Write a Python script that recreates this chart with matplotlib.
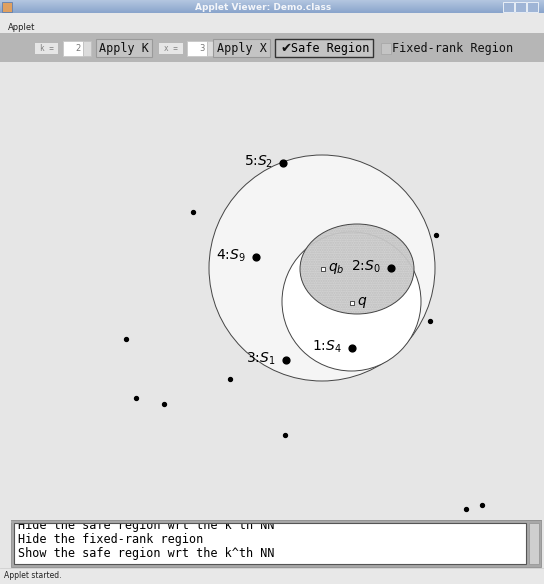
import numpy as np
import matplotlib
matplotlib.use('Agg')
import matplotlib.pyplot as plt
from matplotlib.patches import Rectangle, Circle, Ellipse

plt.rcParams['mathtext.fontset'] = 'dejavusans'

# data points (pixel coords of the applet canvas)
dot_x = [193, 126, 136, 164, 230, 285, 436, 430, 466, 482]
dot_y = [212, 339, 398, 404, 379, 435, 235, 321, 509, 505]

site_x = [283, 256, 391, 352, 286]
site_y = [163, 257, 268, 348, 360]
site_labels = ['5:$S_2$', '4:$S_9$', '2:$S_0$', '1:$S_4$', '3:$S_1$']

query_x = [323, 352]
query_y = [269, 303]
query_labels = ['$q_b$', '$q$']

# regions: (cx, cy, r) / (cx, cy, w, h)
outer_circle = (322, 268, 113)
knn_circle = (351.5, 301.5, 69.5)
safe_region = (357, 269, 114, 90)

toolbar_items = ['k =', 'x =']
log_lines = ['Hide the safe region wrt the k^th NN',
             'Hide the fixed-rank region',
             'Show the safe region wrt the k^th NN']

fig = plt.figure(figsize=(5.44, 5.84), dpi=100, facecolor='#e6e6e6')
ax = fig.add_axes([0, 0, 1, 1])
ax.set_xlim(0, 544)
ax.set_ylim(584, 0)
ax.axis('off')

mono = 'DejaVu Sans Mono'

# title bar
grad = np.linspace(0, 1, 20).reshape(-1, 1)
ax.imshow(grad, extent=(0, 544, 13, 0), cmap=matplotlib.colors.LinearSegmentedColormap.from_list(
    'tb', ['#b3c6e0', '#8aa5cc']), aspect='auto', zorder=1)
ax.text(263, 7, 'Applet Viewer: Demo.class', color='#f4f6fa', fontsize=6.5,
        fontweight='bold', ha='center', va='center', zorder=2)
ax.add_patch(Rectangle((2, 2), 10, 10, fc='#e0a060', ec='#6080b0', lw=0.6, zorder=2))
for bx in [503, 515, 527]:
    ax.add_patch(Rectangle((bx, 2), 11, 10, fc='#9fb5d6', ec='#e8eef6', lw=0.7, zorder=2))

# menu bar
ax.add_patch(Rectangle((0, 13), 544, 20, fc='#e8e8e8', ec='none', zorder=1))
ax.text(8, 27, 'Applet', fontsize=6, va='center', color='#222', zorder=2)

# toolbar
ax.add_patch(Rectangle((0, 33), 544, 29, fc='#b6b6b6', ec='none', zorder=1))

def label_box(x0, x1, txt):
    ax.add_patch(Rectangle((x0, 43), x1 - x0, 11, fc='#e6e6e6', ec='none', zorder=2))
    ax.text((x0 + x1) / 2, 48.5, txt, fontsize=5.5, color='#808080', ha='center',
            va='center', family=mono, zorder=3)

def spinner(x0, txt):
    ax.add_patch(Rectangle((x0, 41), 20, 15, fc='white', ec='#c8c8c8', lw=0.6, zorder=2))
    ax.add_patch(Rectangle((x0 + 20, 41), 8, 15, fc='#dcdcdc', ec='#c0c0c0', lw=0.6, zorder=2))
    ax.text(x0 + 18, 48.5, txt, fontsize=6, color='#777', ha='right', va='center', zorder=3)

def button(x0, x1, txt, ec='#9a9a9a', lw=0.8):
    ax.add_patch(Rectangle((x0, 39), x1 - x0, 18, fc='#c4c4c4', ec=ec, lw=lw, zorder=2))
    ax.text((x0 + x1) / 2, 48.5, txt, fontsize=8.5, family=mono, ha='center',
            va='center', color='#111', zorder=3)

label_box(35, 58, toolbar_items[0])
spinner(63, '2')
button(96, 152, 'Apply K')
label_box(159, 183, toolbar_items[1])
spinner(187, '3')
button(213, 270, 'Apply X')
button(275, 373, '', ec='#333', lw=1.0)
ax.text(280, 48.5, '\u2714', fontsize=9.5, ha='left', va='center', color='#111', zorder=3,
        family='DejaVu Sans')
ax.text(291, 48.5, 'Safe Region', fontsize=8.5, family=mono, ha='left', va='center', zorder=3)
ax.add_patch(Rectangle((381, 43), 10, 11, fc='#c4c4c4', ec='#a8a8a8', lw=0.6, zorder=2))
ax.text(392, 48.5, 'Fixed-rank Region', fontsize=8.5, family=mono, ha='left', va='center',
        color='#111', zorder=3)

# canvas regions
ax.add_patch(Circle(outer_circle[:2], outer_circle[2], fc='#f5f5f5', ec='#444', lw=0.7, zorder=3))
ax.add_patch(Circle(knn_circle[:2], knn_circle[2], fc='white', ec='#444', lw=0.7, zorder=4))
ax.add_patch(Ellipse(safe_region[:2], safe_region[2], safe_region[3], fc='#cecece',
                     ec='#bdbdbd', hatch='.......', lw=0, alpha=0.9, zorder=5))
ax.add_patch(Ellipse(safe_region[:2], safe_region[2], safe_region[3], fc='none',
                     ec='#444', lw=0.7, zorder=6))

ax.scatter(dot_x, dot_y, s=8, c='black', zorder=7)
ax.scatter(site_x, site_y, s=24, c='black', zorder=7)
for x, y, lab in zip(site_x, site_y, site_labels):
    ax.text(x - 10, y - 1, lab, fontsize=10, ha='right', va='center', zorder=8)
ax.scatter(query_x, query_y, s=10, marker='s', facecolors='white', edgecolors='#333',
           linewidths=0.6, zorder=7)
for x, y, lab in zip(query_x, query_y, query_labels):
    ax.text(x + 5, y - 1, lab, fontsize=10, ha='left', va='center', zorder=8)

# log text area (first line scrolled partly out of view)
ax.add_patch(Rectangle((11, 520), 530, 47, fc='#a8a8a8', ec='#909090', lw=0.6, zorder=2))
ax.add_patch(Rectangle((14, 523), 512, 41, fc='white', ec='none', zorder=3))
ax.add_patch(Rectangle((529, 523), 10, 41, fc='#cfcfcf', ec='#999', lw=0.6, zorder=3))
for i, line in enumerate(log_lines):
    ax.text(18, 526 + 14 * i, line, fontsize=8.5, family=mono, va='center', zorder=4)
ax.add_patch(Rectangle((11, 505), 300, 15, fc='#e6e6e6', ec='none', zorder=5))
ax.add_patch(Rectangle((11, 520), 515, 3, fc='#a8a8a8', ec='none', zorder=5))
ax.plot([11, 541], [520, 520], color='#909090', lw=0.6, zorder=6)
ax.add_patch(Rectangle((14, 523), 512, 41, fc='none', ec='#555', lw=0.8, zorder=6))

# status bar
ax.add_patch(Rectangle((0, 568), 544, 16, fc='#e8e8e8', ec='none', zorder=1))
ax.plot([0, 544], [568, 568], color='#d0d0d0', lw=0.6, zorder=2)
ax.text(4, 576, 'Applet started.', fontsize=5.5, va='center', color='#222', zorder=2)

fig.savefig('out.png', dpi=100, facecolor=fig.get_facecolor())
